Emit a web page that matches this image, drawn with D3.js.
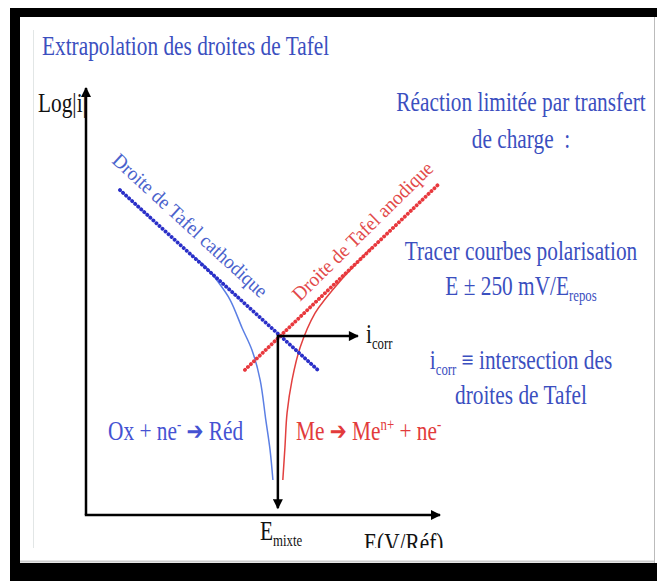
<!DOCTYPE html>
<html><head><meta charset="utf-8">
<script src="https://cdn.jsdelivr.net/npm/d3@7"></script>
<style>body{margin:0;background:#fff}svg{display:block}</style>
</head><body><svg id="c" width="657" height="581"></svg>
<script>
// ---- data (E in arbitrary units, log|i| in arbitrary units) ----
const cathodicTafel = [[9.6, 76.1], [66.1, 33.5]];
const anodicTafel   = [[44.9, 34.0], [99.4, 77.3]];
const cathodicCurve = [[29.4,61.1],[33.6,58.3],[37.3,54.6],[40.7,50.4],[44.1,43.8],[46.9,38.6],[49.2,31.6],[50.8,22.2],[52.0,15.2],[52.8,8.2]];
const anodicCurve   = [[80.5,62.5],[76.5,59.0],[72.0,55.0],[67.8,50.8],[64.7,47.3],[60.5,39.3],[58.2,31.6],[56.8,23.9],[56.2,15.9],[55.6,8.2]];
const corrPoint = [54.2, 41.9];
const icorrArrowEndE = 76.8;
const emixteArrowEndLogi = 1.6;
const axisDomainE = [0, 100];
const axisDomainLogi = [0, 100];
const axisLabels = ["Log|i|", "E(V/Réf)"];
const tafelLabels = ["Droite de Tafel cathodique", "Droite de Tafel anodique"];
const titleText = "Extrapolation des droites de Tafel";
const sideLines = ["Réaction limitée par transfert", "de charge\u00a0\u00a0:", "Tracer courbes polarisation", "E ± 250 mV/E", "repos", " ≡ intersection des", "droites de Tafel"];

const svg = d3.select("#c");
const FONT = "'Liberation Serif','Times New Roman','DejaVu Serif',serif";
const BLUE = "#3b4fbf", RED = "#e23b3b";

// frame
svg.append("rect").attr("width",657).attr("height",581).attr("fill","#fff");
svg.append("rect").attr("x",10).attr("y",8).attr("width",647).attr("height",9).attr("fill","#000");
svg.append("rect").attr("x",10).attr("y",8).attr("width",10).attr("height",573).attr("fill","#000");
svg.append("rect").attr("x",10).attr("y",563).attr("width",647).attr("height",18).attr("fill","#000");
svg.append("line").attr("x1",654.5).attr("x2",654.5).attr("y1",17).attr("y2",563).attr("stroke","#bbb").attr("stroke-width",1);
svg.append("line").attr("x1",33.5).attr("x2",33.5).attr("y1",30).attr("y2",548).attr("stroke","#e2e6e6").attr("stroke-width",1);
svg.append("line").attr("x1",20).attr("x2",654).attr("y1",561.5).attr("y2",561.5).attr("stroke","#ccc").attr("stroke-width",2);

const defs = svg.append("defs");
defs.append("clipPath").attr("id","clip").append("rect").attr("x",20).attr("y",17).attr("width",634).attr("height",531);
defs.append("marker").attr("id","ah").attr("viewBox","0 0 10 10").attr("refX",9).attr("refY",5)
  .attr("markerWidth",12).attr("markerHeight",10).attr("markerUnits","userSpaceOnUse").attr("orient","auto")
  .append("path").attr("d","M0,0 L10,5 L0,10 z").attr("fill","#000");

const g = svg.append("g").attr("clip-path","url(#clip)");

const x = d3.scaleLinear().domain(axisDomainE).range([86, 440]);
const y = d3.scaleLinear().domain(axisDomainLogi).range([515, 88]);

// axes
g.append("line").attr("x1",x(0)).attr("y1",y(0)).attr("x2",x(0)).attr("y2",y(100))
  .attr("stroke","#000").attr("stroke-width",2.5).attr("marker-end","url(#ah)");
g.append("line").attr("x1",x(0)-1.2).attr("y1",y(0)).attr("x2",x(100)).attr("y2",y(0))
  .attr("stroke","#000").attr("stroke-width",2.5).attr("marker-end","url(#ah)");

const line = d3.line().x(d=>x(d[0])).y(d=>y(d[1]));
const curve = d3.line().x(d=>x(d[0])).y(d=>y(d[1])).curve(d3.curveCatmullRom);

// polarisation curves
g.append("path").attr("d",curve(cathodicCurve)).attr("fill","none").attr("stroke","#5b7fe4").attr("stroke-width",1.5);
g.append("path").attr("d",curve(anodicCurve)).attr("fill","none").attr("stroke","#e2403f").attr("stroke-width",1.5);

// tafel lines
g.append("path").attr("d",line(cathodicTafel)).attr("fill","none").attr("stroke","#2a2fc8")
  .attr("stroke-width",3.8).attr("stroke-linecap","round").attr("stroke-dasharray","0.1 4");
g.append("path").attr("d",line(anodicTafel)).attr("fill","none").attr("stroke","#e8383d")
  .attr("stroke-width",3.8).attr("stroke-linecap","round").attr("stroke-dasharray","0.1 4");

// black arrows from intersection
g.append("line").attr("x1",x(corrPoint[0])).attr("y1",y(corrPoint[1])).attr("x2",x(icorrArrowEndE)).attr("y2",y(corrPoint[1]))
  .attr("stroke","#000").attr("stroke-width",2.5).attr("marker-end","url(#ah)");
g.append("line").attr("x1",x(corrPoint[0])).attr("y1",y(corrPoint[1])-1.2).attr("x2",x(corrPoint[0])).attr("y2",y(emixteArrowEndLogi))
  .attr("stroke","#000").attr("stroke-width",2.5).attr("marker-end","url(#ah)");

// text helper
function label(px, py, parts, o) {
  o = Object.assign({anchor:"start", size:27, color:"#000", sx:0.79, rot:0}, o||{});
  const t = g.append("g").attr("transform",`translate(${px},${py}) rotate(${o.rot}) scale(${o.sx},1)`)
    .append("text").attr("text-anchor",o.anchor).attr("font-size",o.size).attr("fill",o.color).attr("font-family",FONT);
  let shift = 0;
  parts.forEach(p => {
    if (typeof p === "string") p = {t:p};
    let target = p.sub ? 6 : p.sup ? -10 : 0;
    const ts = t.append("tspan").text(p.t).attr("dy", target - shift);
    if (p.sub || p.sup) ts.attr("font-size", o.size*0.6);
    if (p.arrow) ts.attr("font-family","'DejaVu Sans',sans-serif").attr("font-size",o.size*0.95).attr("font-weight","bold");
    shift = target;
  });
  return t;
}

label(42, 55, [titleText], {color:BLUE});
label(38, 112, [axisLabels[0]], {color:"#111"});
label(364, 552, [axisLabels[1]], {color:"#111"});
label(260, 540, ["E", {t:"mixte", sub:true}], {color:"#111"});
label(366, 343, ["i", {t:"corr", sub:true}], {color:"#111"});

label(111, 162, [tafelLabels[0]], {color:"#4a62cc", size:20, sx:0.95, rot:42.5});
label(300, 302, [tafelLabels[1]], {color:"#e24a4a", size:20, sx:0.95, rot:-44.5});

const CX = 521;
label(CX, 111, [sideLines[0]], {anchor:"middle", color:BLUE});
label(CX, 148, [sideLines[1]], {anchor:"middle", color:BLUE});
label(CX, 260, [sideLines[2]], {anchor:"middle", color:BLUE});
label(CX, 295, [sideLines[3], {t:sideLines[4], sub:true}], {anchor:"middle", color:BLUE});
label(CX, 369, ["i", {t:"corr", sub:true}, sideLines[5]], {anchor:"middle", color:BLUE});
label(CX, 404, [sideLines[6]], {anchor:"middle", color:BLUE});

label(108, 440, ["Ox + ne", {t:"-", sup:true}, " ", {t:"➔", arrow:true}, " Réd"], {color:"#4552d2"});
label(296, 440, ["Me ", {t:"➔", arrow:true}, " Me", {t:"n+", sup:true}, " + ne", {t:"-", sup:true}], {color:RED});
</script></body></html>
